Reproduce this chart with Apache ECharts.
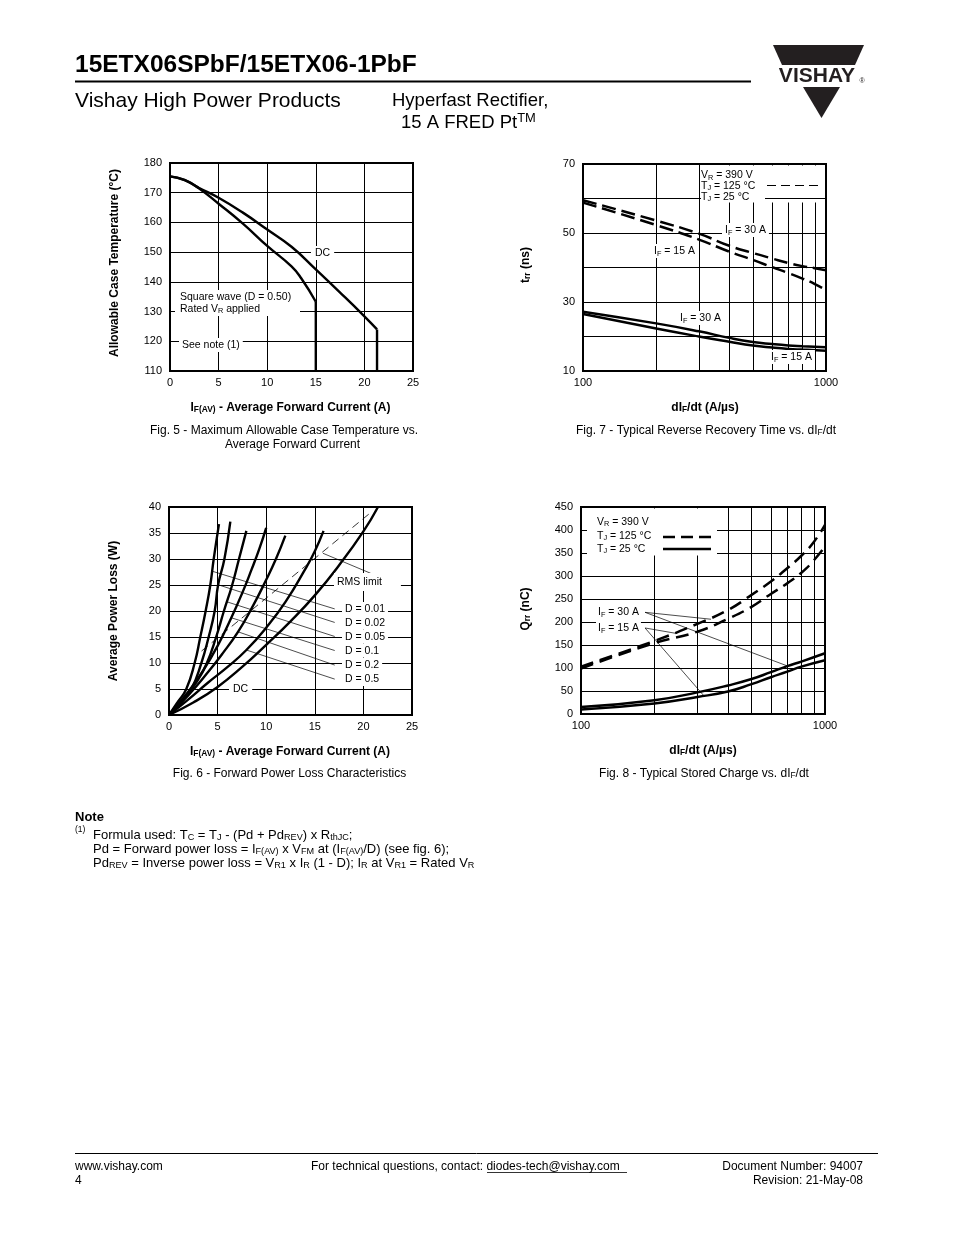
<!DOCTYPE html>
<html><head><meta charset="utf-8">
<script src="https://cdn.jsdelivr.net/npm/echarts@6/dist/echarts.min.js"></script>
<style>html,body{margin:0;padding:0;background:#fff}#c{width:954px;height:1235px}</style>
</head><body><div id="c"></div>
<script>
// ---------------- DATA ----------------
// Fig. 5 : allowable case temperature vs average forward current
const fig5XRange = [0, 25, 5];
const fig5YRange = [110, 180, 10];
const fig5DC = [[0,175.5],[1.5,174.2],[3,171.6],[5,168.3],[7.5,163.3],[10,157.6],[12.5,151.8],[15,144.2],[17.5,136.4],[20,128.4],[21.3,124]];
const fig5DCDrop = [[21.3,124],[21.3,110]];
const fig5SW = [[0,175.5],[1.5,174.3],[3,171.4],[5,166.3],[7.5,159.6],[10,152.1],[12.5,145.2],[13.5,141.2],[15,133.3]];
const fig5SWDrop = [[15,133.3],[15,110]];

// Fig. 7 : trr vs dIF/dt
const fig7YRange = [10, 70, 10];
const fig7YLabels = [10, 30, 50, 70];
const logMinor = [200, 300, 400, 500, 600, 700, 800, 900];
const fig7Dash30 = [[100,59.5],[200,53.6],[300,49.8],[400,46.3],[500,44.2],[600,42.6],[700,41.3],[800,40.4],[900,39.8],[1000,39.2]];
const fig7Dash15 = [[100,58.8],[200,52.3],[300,48.1],[400,44.6],[500,42.2],[600,40.1],[700,38.4],[800,36.8],[900,35.2],[1000,33.4]];
const fig7Solid30 = [[100,27.2],[200,23.8],[300,21.5],[400,19.6],[500,18.4],[600,17.8],[700,17.4],[800,17.2],[1000,16.9]];
const fig7Solid15 = [[100,26.5],[200,22.3],[300,20.0],[400,18.5],[500,17.4],[600,16.8],[700,16.4],[800,16.2],[1000,15.9]];

// Fig. 6 : forward power loss
const fig6YRange = [0, 40, 5];
const fig6D001 = [[0,0],[0.9,2.5],[1.78,5],[2.64,10],[3.22,15],[3.77,20],[4.25,25],[4.6,30],[5.14,36.7]];
const fig6D002 = [[0,0],[1.2,2.5],[2.3,5],[3.33,10],[4.08,15],[4.7,20],[5.05,25],[5.7,30],[6.31,37.2]];
const fig6D005 = [[0,0],[1.5,3],[2.9,6.5],[3.9,10],[4.85,15],[5.65,20],[6.5,25],[7.2,30],[7.96,35.4]];
const fig6D01 = [[0,0],[2,4.5],[3.5,8.5],[5,13.3],[6.41,18.7],[7.5,23.3],[8.5,28],[9.3,32],[10,36]];
const fig6D02 = [[0,0],[2,3.8],[4,8.2],[5.5,11.8],[7.1,16],[8.5,20.5],[10,26],[11,30],[11.97,34.5]];
const fig6D05 = [[0,0],[2,3],[4,6.2],[6,9.2],[7.96,12.5],[10,16.8],[12,21.8],[14,28],[15,31.5],[15.9,35.4]];
const fig6DC = [[0,0],[2.5,2.4],[5,5.4],[7.5,9.2],[10,13.5],[12.5,18],[15,23],[17.5,28.8],[20,35.3],[21.5,40]];
const fig6RMS = [[3.35,12.3],[20.8,39]];
const fig6Leaders = [
  [[4.36,27.7],[17.05,20.4]],
  [[4.97,25.1],[17.05,17.8]],
  [[5.9,21.8],[17.05,15.1]],
  [[6.41,18.7],[17.05,12.4]],
  [[7.1,16],[17.05,9.6]],
  [[7.96,12.5],[17.05,6.9]],
  [[15.84,31.1],[20.75,27.25]]
];

// Fig. 8 : Qrr vs dIF/dt
const fig8YRange = [0, 450, 50];
const fig8Dash30 = [[100,103],[200,159],[300,196],[400,226],[500,259],[600,288],[700,317],[800,344],[900,374],[1000,411]];
const fig8Dash15 = [[100,99],[200,154],[300,179],[400,207],[500,233],[600,261],[700,284],[800,307],[900,334],[1000,364]];
const fig8Solid30 = [[100,15],[200,30],[300,47],[400,62],[500,76],[600,91],[700,104],[800,114],[1000,132]];
const fig8Solid15 = [[100,10],[200,23],[300,37],[400,49],[500,65],[600,80],[700,92],[800,103],[1000,117]];
const fig8Leaders = [
  [[183,221],[341,206]],
  [[183,221],[705,104]],
  [[183,187],[247,175]],
  [[183,187],[322,37]]
];

// ---------------- CHART ----------------
const F = "'Liberation Sans', Arial, Helvetica, sans-serif";
const chart = echarts.init(document.getElementById('c'), null, {renderer:'canvas', width:954, height:1235});

function R(size, bold){
  const w = bold ? 'bold' : 'normal';
  const lh = Math.round(size*1.15);
  const ss = +(size*0.7).toFixed(1);
  const slh = Math.round(ss);
  return {
    n:{fontSize:size,fontWeight:w,fontFamily:F,lineHeight:lh,verticalAlign:'bottom',fill:'#000'},
    s:{fontSize:ss,fontWeight:w,fontFamily:F,lineHeight:slh,verticalAlign:'bottom',fill:'#000'},
    u:{fontSize:ss,fontWeight:w,fontFamily:F,lineHeight:slh,verticalAlign:'top',fill:'#000'}
  };
}
const G = [];
function T(x, y, str, size, o){
  o = o || {};
  G.push({type:'text', x:x, y:y, z:o.z||40, rotation:o.rot||0, silent:true,
    style:{text:str, rich:R(size,o.bold), align:o.align||'left', verticalAlign:'middle',
      backgroundColor:o.bg, padding:o.pad}});
}
function L(x1,y1,x2,y2,w,dash){
  G.push({type:'line', z:36, silent:true, shape:{x1:x1,y1:y1,x2:x2,y2:y2},
    style:{stroke:'#000', lineWidth:w, lineDash:dash||null}});
}
function B(x,y,w,h){
  G.push({type:'rect', z:34, silent:true, shape:{x:x,y:y,width:w,height:h}, style:{fill:'#fff'}});
}

// ---- header ----
T(75, 64, '{n|15ETX06SPbF/15ETX06-1PbF}', 24.5, {bold:true});
L(75, 81.5, 751, 81.5, 2);
T(75, 99.5, '{n|Vishay High Power Products}', 21);
T(392, 99.5, '{n|Hyperfast Rectifier,}', 18.5);
T(401, 122, '{n|15 A FRED Pt}{u|TM}', 18.5);
// logo
G.push({type:'polygon', z:30, silent:true, shape:{points:[[773,45],[864,45],[855,65],[782,65]]}, style:{fill:'#231f20'}});
G.push({type:'polygon', z:30, silent:true, shape:{points:[[803,87],[840,87],[821.5,118]]}, style:{fill:'#231f20'}});
G.push({type:'text', z:30, silent:true, x:817, y:76, style:{text:'VISHAY', font:'bold 21px '+F, fill:'#231f20', align:'center', verticalAlign:'middle'}});
G.push({type:'text', z:30, silent:true, x:862, y:81, style:{text:'®', font:'7px '+F, fill:'#231f20', align:'center', verticalAlign:'middle'}});

// ---- Fig 5 texts ----
T(290.5, 407, '{n|I}{s|F(AV)}{n| - Average Forward Current (A)}', 12, {bold:true, align:'center'});
T(114, 263, '{n|Allowable Case Temperature (°C)}', 12, {bold:true, align:'center', rot:Math.PI/2});
T(284, 430, '{n|Fig. 5 - Maximum Allowable Case Temperature vs.}', 12, {align:'center'});
T(292.5, 444, '{n|Average Forward Current}', 12, {align:'center'});
T(311, 253, '{n|DC}', 10.5, {bg:'#fff', pad:[1,4]});
B(175, 290, 125, 26);
T(180, 297, '{n|Square wave (D = 0.50)}', 10.5);
T(180, 308.5, '{n|Rated V}{s|R}{n| applied}', 10.5);
T(179, 345, '{n|See note (1)}', 10.5, {bg:'#fff', pad:[1,3]});

// ---- Fig 7 texts ----
B(701, 165.5, 120, 37);
T(701, 175, '{n|V}{s|R}{n| = 390 V}', 10.5);
T(701, 185.5, '{n|T}{s|J}{n| = 125 °C}', 10.5);
T(701, 196.5, '{n|T}{s|J}{n| = 25 °C}', 10.5);
L(767, 185.5, 818, 185.5, 1, [9,5]);
L(765, 198.5, 821, 198.5, 1);
T(722, 230, '{n|I}{s|F}{n| = 30 A}', 10.5, {bg:'#fff', pad:[1,3]});
T(651, 251, '{n|I}{s|F}{n| = 15 A}', 10.5, {bg:'#fff', pad:[1,3]});
T(677, 318, '{n|I}{s|F}{n| = 30 A}', 10.5, {bg:'#fff', pad:[1,3]});
T(768, 357, '{n|I}{s|F}{n| = 15 A}', 10.5, {bg:'#fff', pad:[1,3]});
T(705, 407, '{n|dI}{s|F}{n|/dt (A/µs)}', 12, {bold:true, align:'center'});
T(525, 265, '{n|t}{s|rr}{n| (ns)}', 12, {bold:true, align:'center', rot:Math.PI/2});
T(706, 430, '{n|Fig. 7 - Typical Reverse Recovery Time vs. dI}{s|F}{n|/dt}', 12, {align:'center'});

// ---- Fig 6 texts ----
T(290, 751, '{n|I}{s|F(AV)}{n| - Average Forward Current (A)}', 12, {bold:true, align:'center'});
T(112.5, 611, '{n|Average Power Loss (W)}', 12, {bold:true, align:'center', rot:Math.PI/2});
T(289.5, 773, '{n|Fig. 6 - Forward Power Loss Characteristics}', 12, {align:'center'});
T(334, 582, '{n|RMS limit}', 10.5, {bg:'#fff', pad:[3,19,3,3]});
const dLabels = ['D = 0.01','D = 0.02','D = 0.05','D = 0.1','D = 0.2','D = 0.5'];
const dLabelY = [609, 622.5, 636.5, 650.5, 665, 679];
dLabels.forEach((s,i)=>T(342, dLabelY[i], '{n|'+s+'}', 10.5, {bg:'#fff', pad:[1,3]}));
T(229, 689, '{n|DC}', 10.5, {bg:'#fff', pad:[1,4]});

// ---- Fig 8 texts ----
B(587, 508.5, 130, 47);
T(597, 521.5, '{n|V}{s|R}{n| = 390 V}', 10.5);
T(597, 535.5, '{n|T}{s|J}{n| = 125 °C}', 10.5);
T(597, 548.5, '{n|T}{s|J}{n| = 25 °C}', 10.5);
L(663, 537, 711, 537, 2.5, [12,6]);
L(663, 549, 711, 549, 2.5);
T(596, 612, '{n|I}{s|F}{n| = 30 A}', 10.5, {bg:'#fff', pad:[1,2]});
T(596, 628, '{n|I}{s|F}{n| = 15 A}', 10.5, {bg:'#fff', pad:[1,2]});
T(703, 750, '{n|dI}{s|F}{n|/dt (A/µs)}', 12, {bold:true, align:'center'});
T(525, 609, '{n|Q}{s|rr}{n| (nC)}', 12, {bold:true, align:'center', rot:Math.PI/2});
T(704, 773, '{n|Fig. 8 - Typical Stored Charge vs. dI}{s|F}{n|/dt}', 12, {align:'center'});

// ---- Note ----
T(75, 816.5, '{n|Note}', 13, {bold:true});
T(75, 829, '{n|(1)}', 8.5);
T(93, 834, '{n|Formula used: T}{s|C}{n| = T}{s|J}{n| - (Pd + Pd}{s|REV}{n|) x R}{s|thJC}{n|;}', 13);
T(93, 848, '{n|Pd = Forward power loss = I}{s|F(AV)}{n| x V}{s|FM}{n| at (I}{s|F(AV)}{n|/D) (see fig. 6);}', 13);
T(93, 862, '{n|Pd}{s|REV}{n| = Inverse power loss = V}{s|R1}{n| x I}{s|R}{n| (1 - D); I}{s|R}{n| at V}{s|R1}{n| = Rated V}{s|R}', 13);

// ---- Footer ----
L(75, 1153.5, 878, 1153.5, 1);
T(75, 1166, '{n|www.vishay.com}', 12);
T(75, 1180, '{n|4}', 12);
T(311, 1166, '{n|For technical questions, contact: diodes-tech@vishay.com}', 12);
L(487, 1172.5, 627, 1172.5, 0.8);
T(863, 1166, '{n|Document Number: 94007}', 12, {align:'right'});
T(863, 1180, '{n|Revision: 21-May-08}', 12, {align:'right'});

// ---- axes ----
const gridLine = {show:true, lineStyle:{color:'#000', width:1, type:'solid'}};
const lbl = (m, extra) => Object.assign({color:'#000', fontSize:11, fontFamily:F, margin:m}, extra||{});
function vAxis(gi, r, m, extra){
  return {gridIndex:gi, type:'value', min:r[0], max:r[1], interval:r[2],
    axisLine:{show:false}, axisTick:{show:false}, splitLine:gridLine, axisLabel:lbl(m, extra)};
}
function logAxis(gi){
  return {gridIndex:gi, type:'log', logBase:10, min:100, max:1000,
    axisLine:{show:false}, axisTick:{show:false}, splitLine:gridLine,
    axisLabel:lbl(6, {showMinLabel:true, showMaxLabel:true, formatter: v => String(Math.round(v))})};
}
const gridBase = {show:true, borderColor:'#000', borderWidth:2, backgroundColor:'rgba(0,0,0,0)', containLabel:false};

function curve(i, data, dash, w){
  return {type:'line', xAxisIndex:i, yAxisIndex:i, data:data, symbol:'none', showSymbol:false,
    smooth:0.5, silent:true, animation:false, z:3,
    lineStyle:{color:'#000', width:w||2.4, type:dash||'solid'}};
}
function straight(i, data, w, dash){
  return {type:'line', xAxisIndex:i, yAxisIndex:i, data:data, symbol:'none', showSymbol:false,
    smooth:false, silent:true, animation:false, z:3,
    lineStyle:{color:'#000', width:w, type:dash||'solid'}};
}
function minorGrid(){
  return {silent:true, symbol:['none','none'], label:{show:false}, animation:false,
    lineStyle:{color:'#000', width:1, type:'solid'}, emphasis:{disabled:true},
    data: logMinor.map(v => ({xAxis:v}))};
}

const series = [];
// Fig 5 (index 0)
series.push(curve(0, fig5DC));
series.push(curve(0, fig5SW));
series.push(straight(0, fig5DCDrop, 2.4));
series.push(straight(0, fig5SWDrop, 2.4));
// Fig 7 (index 1)
const s7 = curve(1, fig7Dash30, [14,6], 2.5); s7.markLine = minorGrid(); series.push(s7);
series.push(curve(1, fig7Dash15, [14,6], 2.5));
series.push(curve(1, fig7Solid30, 'solid', 2.5));
series.push(curve(1, fig7Solid15, 'solid', 2.5));
// Fig 6 (index 2)
[fig6D001, fig6D002, fig6D005, fig6D01, fig6D02, fig6D05, fig6DC].forEach(d => series.push(curve(2, d, 'solid', 2.4)));
series.push(straight(2, fig6RMS, 0.8, [8,5]));
fig6Leaders.forEach(d => series.push(straight(2, d, 0.7)));
// Fig 8 (index 3)
const s8 = curve(3, fig8Dash30, [13,7], 2.5); s8.markLine = minorGrid(); series.push(s8);
series.push(curve(3, fig8Dash15, [13,7], 2.5));
series.push(curve(3, fig8Solid30, 'solid', 2.5));
series.push(curve(3, fig8Solid15, 'solid', 2.5));
fig8Leaders.forEach(d => series.push(straight(3, d, 0.7)));

chart.setOption({
  animation:false,
  backgroundColor:'#fff',
  grid:[
    Object.assign({left:170, top:163, width:243, height:208}, gridBase),
    Object.assign({left:583, top:164, width:243, height:207}, gridBase),
    Object.assign({left:169, top:507, width:243, height:208}, gridBase),
    Object.assign({left:581, top:507, width:244, height:207}, gridBase)
  ],
  xAxis:[
    vAxis(0, fig5XRange, 6),
    logAxis(1),
    vAxis(2, fig5XRange, 6),
    logAxis(3)
  ],
  yAxis:[
    vAxis(0, fig5YRange, 8),
    vAxis(1, fig7YRange, 8, {formatter: v => fig7YLabels.indexOf(v) >= 0 ? String(v) : ''}),
    vAxis(2, fig6YRange, 8),
    vAxis(3, fig8YRange, 8)
  ],
  series: series,
  graphic: G
});
</script>
</body></html>
